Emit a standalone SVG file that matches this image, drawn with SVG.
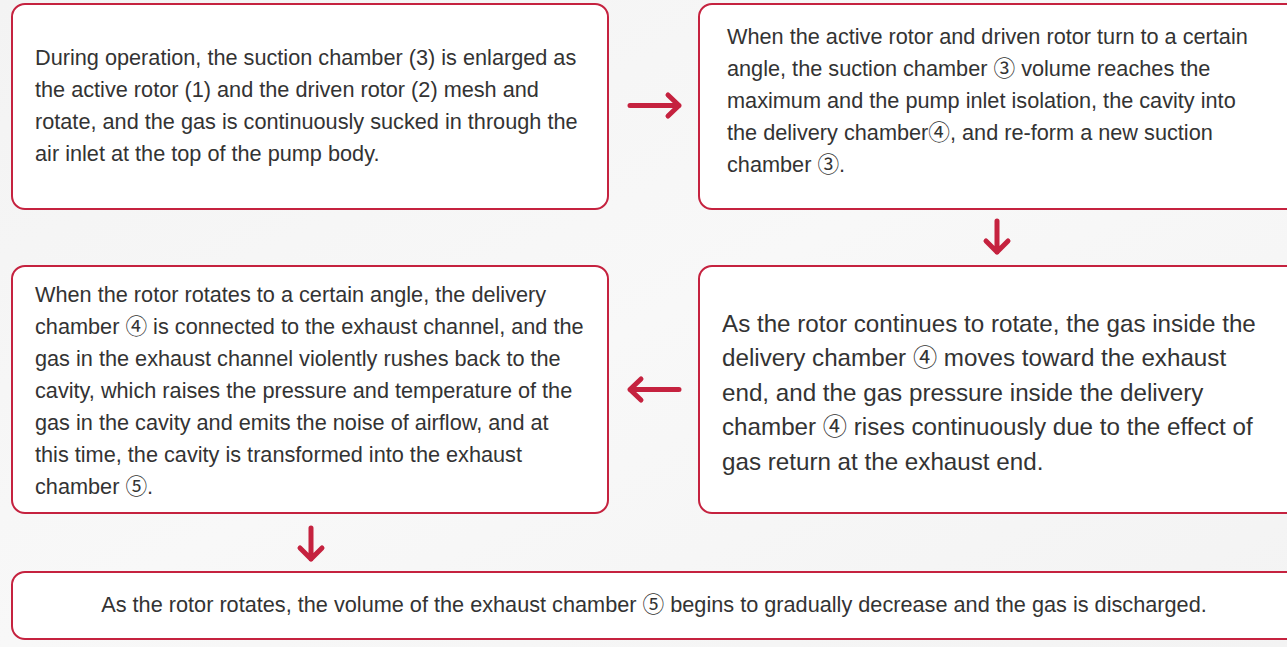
<svg xmlns="http://www.w3.org/2000/svg" width="1287" height="647" viewBox="0 0 1287 647">
<style>
.box{fill:#ffffff;stroke:#c5223f;stroke-width:2}
.t{font-family:"Liberation Sans",Arial,"Noto Sans CJK SC",sans-serif;font-size:21.7px;fill:#333333}
.t2{font-family:"Liberation Sans",Arial,"Noto Sans CJK SC",sans-serif;font-size:24.2px;fill:#333333}
.arr{fill:none;stroke:#c5223f;stroke-width:5;stroke-linecap:round;stroke-linejoin:round}
</style>
<defs>
<linearGradient id="bg" x1="0" y1="0" x2="1" y2="1">
<stop offset="0" stop-color="#f3f3f3"/>
<stop offset="0.5" stop-color="#f8f8f8"/>
<stop offset="1" stop-color="#f3f3f3"/>
</linearGradient>
</defs>
<rect x="0" y="0" width="1287" height="647" fill="url(#bg)"/>
<g id="node1">
<rect class="box" x="12" y="4" width="596" height="205" rx="13"/>
<text class="t"><tspan x="35" y="65">During operation, the suction chamber (3) is enlarged as</tspan><tspan x="35" y="97">the active rotor (1) and the driven rotor (2) mesh and</tspan><tspan x="35" y="129">rotate, and the gas is continuously sucked in through the</tspan><tspan x="35" y="161">air inlet at the top of the pump body.</tspan></text>
</g>
<g id="node2">
<rect class="box" x="699" y="4" width="600" height="205" rx="13"/>
<text class="t"><tspan x="727" y="44">When the active rotor and driven rotor turn to a certain</tspan><tspan x="727" y="76">angle, the suction chamber ③ volume reaches the</tspan><tspan x="727" y="108">maximum and the pump inlet isolation, the cavity into</tspan><tspan x="727" y="140">the delivery chamber④, and re-form a new suction</tspan><tspan x="727" y="172">chamber ③.</tspan></text>
</g>
<g id="node3">
<rect class="box" x="12" y="266" width="596" height="247" rx="13"/>
<text class="t"><tspan x="35" y="302">When the rotor rotates to a certain angle, the delivery</tspan><tspan x="35" y="334">chamber ④ is connected to the exhaust channel, and the</tspan><tspan x="35" y="366">gas in the exhaust channel violently rushes back to the</tspan><tspan x="35" y="398">cavity, which raises the pressure and temperature of the</tspan><tspan x="35" y="430">gas in the cavity and emits the noise of airflow, and at</tspan><tspan x="35" y="462">this time, the cavity is transformed into the exhaust</tspan><tspan x="35" y="494">chamber ⑤.</tspan></text>
</g>
<g id="node4">
<rect class="box" x="699" y="266" width="600" height="247" rx="13"/>
<text class="t2"><tspan x="722" y="332">As the rotor continues to rotate, the gas inside the</tspan><tspan x="722" y="366">delivery chamber ④ moves toward the exhaust</tspan><tspan x="722" y="401">end, and the gas pressure inside the delivery</tspan><tspan x="722" y="435">chamber ④ rises continuously due to the effect of</tspan><tspan x="722" y="470">gas return at the exhaust end.</tspan></text>
</g>
<g id="node5">
<rect class="box" x="12" y="572" width="1290" height="67" rx="13"/>
<text class="t" x="654" y="612" text-anchor="middle">As the rotor rotates, the volume of the exhaust chamber ⑤ begins to gradually decrease and the gas is discharged.</text>
</g>
<g id="connectors">
<path class="arr" d="M630 105.5H679M668 95L679 105.5L668 116"/>
<path class="arr" d="M997 221V252M986 241L997 252L1008 241"/>
<path class="arr" d="M679 389.5H630M641 379L630 389.5L641 400"/>
<path class="arr" d="M311 528V559M300 548L311 559L322 548"/>
</g>
</svg>
